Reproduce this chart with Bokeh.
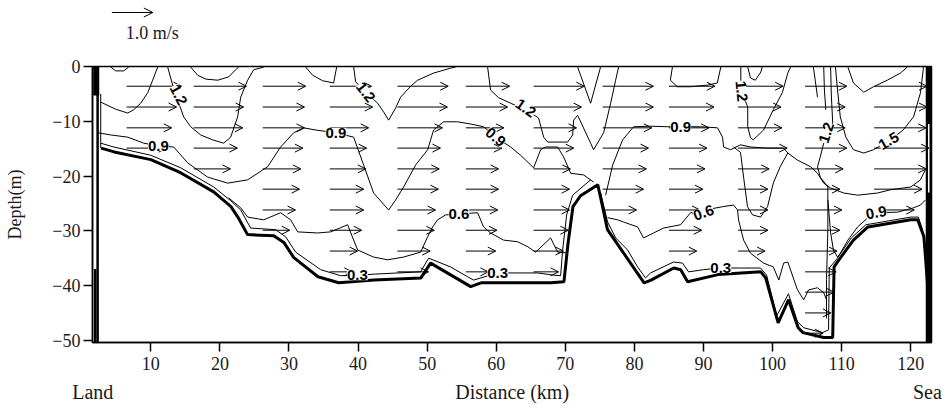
from bokeh.plotting import figure
from bokeh.models import (Range1d, FixedTicker, ColumnDataSource, Arrow, OpenHead,
                          LabelSet, LinearAxis)
from bokeh.layouts import column
from bokeh.core.properties import value
from bokeh.embed import file_html
from bokeh.resources import INLINE

# ---------------- data ----------------
x_ticks = [10, 20, 30, 40, 50, 60, 70, 80, 90, 100, 110, 120]
y_ticks = [0, -10, -20, -30, -40, -50]

# bottom line captions (position km, text)
caption_pos = [1.6, 62.3, 122.4]
caption_text = ["Land", "Distance (km)", "Sea"]

# bottom profile (distance km, depth m)
bath_x = [2.8, 4.7, 10.0, 14.3, 19.1, 21.6, 22.6, 24.0, 27.8, 29.3, 30.7, 34.2, 37.2, 42.3,
          49.1, 50.5, 56.3, 57.8, 67.9, 69.8, 70.4, 71.1, 72.2, 74.7, 76.1, 81.4, 82.4, 85.7,
          86.7, 87.7, 92.1, 98.3, 99.0, 100.8, 102.3, 103.7, 104.4, 107.4, 108.7, 108.9,
          109.6, 111.7, 113.8, 120.0, 121.0, 121.9, 122.6, 122.9]
bath_d = [-14.9, -15.6, -17.0, -19.4, -22.9, -25.6, -27.5, -30.7, -30.9, -32.2, -34.9, -38.4,
          -39.5, -39.0, -38.6, -35.9, -40.2, -39.5, -39.5, -39.3, -32.2, -25.6, -23.6, -21.6,
          -29.8, -39.5, -39.0, -36.8, -37.1, -39.3, -38.0, -37.5, -38.6, -46.8, -42.6, -47.7,
          -48.6, -49.5, -49.5, -36.6, -35.3, -31.7, -29.3, -28.0, -28.0, -31.1, -42.6, -49.9]

# side walls (x, top depth, bottom depth)
wall_thick_x = [2.1, 122.6]
wall_thick_top = [0.0, 0.0]
wall_thick_bot = [-5.3, -50.4]
wall_line_x = [2.3, 1.95]
wall_line_top = [0.0, -37.0]
wall_line_bot = [-50.4, -50.4]
wall_inner_x = [2.75]
wall_inner_top = [-5.0]
wall_inner_bot = [-14.9]
wall_gap_x = [122.6]
wall_gap_top = [-10.5]
wall_gap_bot = [-23.0]

# velocity vectors: tail positions (km), layer depths (m), speeds (m/s) per column
arrow_x = [6.5, 16.2, 26.2, 35.9, 45.7, 55.6, 65.4, 75.4, 85.0, 95.0, 104.7, 114.7]
row_depth = [-3.6, -7.4, -11.2, -14.9, -18.7, -22.4, -26.2, -29.9, -33.7, -37.5, -41.2, -45.0, -48.7]
speed_c1 = [1.34, 1.22, 1.10, 0.98]
speed_c2 = [1.29, 1.22, 1.20, 1.07, 0.90]
speed_c3 = [1.05, 1.02, 1.02, 0.98, 0.93, 0.90, 0.80, 0.66]
speed_c4 = [1.02, 1.05, 0.95, 0.90, 0.88, 0.83, 0.83, 0.78, 0.68, 0.55]
speed_c5 = [1.24, 1.22, 1.10, 1.05, 1.02, 1.00, 0.93, 0.90, 0.80, 0.76]
speed_c6 = [1.07, 1.02, 0.93, 0.88, 0.80, 0.80, 0.78, 0.76, 0.73, 0.55]
speed_c7 = [1.24, 1.17, 1.05, 0.98, 0.90, 0.88, 0.88, 0.85, 0.73, 0.61]
speed_c8 = [1.24, 1.24, 1.20, 1.12, 1.07, 1.00, 0.83]
speed_c9 = [1.12, 1.10, 0.98, 0.93, 0.88, 0.83, 0.76, 0.80, 0.68]
speed_c10 = [1.10, 1.05, 1.07, 1.20, 0.76, 0.73, 0.73, 0.73, 0.66]
speed_c11 = [1.02, 0.98, 0.98, 1.02, 0.93, 0.85, 0.90, 0.85, 0.78, 0.76, 0.71, 0.63, 0.44]
speed_c12 = [1.29, 1.29, 1.27, 1.34, 1.27, 1.17, 0.98]
speeds = [speed_c1, speed_c2, speed_c3, speed_c4, speed_c5, speed_c6,
          speed_c7, speed_c8, speed_c9, speed_c10, speed_c11, speed_c12]
km_per_ms = 5.93          # vector scale: 1 m/s drawn as 5.93 km
ref_speed = 1.0
ref_arrow_x = 4.36

# isotach contours (km, m)
c12a_x = [11.0, 10.27, 9.55, 8.54, 7.52, 6.66, 4.92, 2.75]
c12a_d = [-0.1, -2.5, -4.8, -6.7, -7.9, -8.5, -7.8, -6.5]
c12b_x = [12.44, 13.17, 14.04, 14.76, 15.77, 17.22, 18.96, 20.55, 21.56, 22.57, 23.01, 24.02, 24.89, 26.34]
c12b_d = [-0.1, -3.4, -6.7, -9.2, -11.0, -12.5, -13.4, -14.0, -12.9, -9.2, -5.6, -2.5, -0.6, -0.1]
w1_x = [4.20, 4.92, 6.08, 6.80]
w1_d = [-0.1, -0.8, -0.8, -0.1]
w2_x = [15.77, 16.79, 17.94, 19.68, 21.27, 22.28, 22.72]
w2_d = [-0.1, -1.6, -2.3, -2.5, -1.9, -0.6, -0.1]
w3_x = [32.41, 33.43, 34.87, 36.46, 36.90]
w3_d = [-0.1, -1.6, -2.6, -3.0, -0.1]
c12c_x = [39.36, 39.65, 41.09, 42.83, 43.70, 44.42, 45.43, 46.16, 47.61, 48.62, 50.93, 53.39, 54.12]
c12c_d = [-0.1, -2.8, -4.7, -6.7, -8.3, -9.8, -7.6, -5.6, -3.6, -2.5, -1.2, -0.3, -0.1]
c12d_x = [58.75, 59.18, 60.34, 62.08, 64.25, 66.13, 66.86, 67.44, 70.33, 71.06, 71.20, 71.78,
          73.66, 74.09, 75.54, 76.56, 77.28, 77.71]
c12d_d = [-0.1, -4.3, -5.7, -6.7, -7.9, -9.4, -12.9, -13.8, -13.8, -12.5, -9.8, -8.9,
          -14.0, -15.2, -12.1, -6.7, -2.5, -0.1]
v1_x = [71.78, 73.66, 75.10]
v1_d = [-0.1, -6.7, -0.1]
c09a_x = [2.32, 4.20, 6.66, 8.97, 11.14, 13.31, 15.34, 18.23, 21.13, 24.02, 26.91, 28.79, 30.68,
          32.12, 33.86, 36.75, 39.36, 40.81, 42.25, 44.42, 45.43, 46.59, 48.33, 50.07, 50.93,
          52.38, 54.41, 56.29, 58.17, 59.91, 62.08, 63.52, 65.41, 66.42, 67.15, 68.88, 69.75,
          70.77, 72.64, 74.09]
c09a_d = [-12.1, -12.5, -12.9, -14.0, -14.5, -14.7, -17.6, -20.2, -21.3, -20.7, -18.3, -14.7,
          -12.1, -11.2, -11.6, -12.1, -12.9, -18.0, -23.1, -26.2, -24.4, -22.0, -18.0, -15.2,
          -11.6, -10.1, -10.1, -10.5, -11.0, -12.9, -14.7, -16.2, -18.5, -15.2, -14.7, -14.7,
          -16.5, -19.5, -19.8, -21.1]
c09b_x = [75.83, 76.85, 78.29, 79.88, 82.34, 84.80, 89.57, 92.03, 92.76, 92.90, 93.92, 95.36,
          96.81, 99.27, 101.6, 102.2, 103.6, 105.5, 106.5, 107.4, 108.4, 110.3, 112.3, 115.2,
          117.1, 120.0, 121.4, 122.1]
c09b_d = [-23.5, -18.0, -13.4, -11.0, -10.9, -11.0, -11.0, -11.2, -12.9, -14.7, -15.2, -14.3,
          -14.7, -14.9, -14.9, -15.8, -17.1, -18.3, -19.5, -21.3, -22.2, -23.1, -23.5, -23.1,
          -22.5, -22.0, -20.7, -18.9]
u1_x = [94.35, 95.36, 95.80, 96.37, 97.1, 98.26, 99.27, 100.1, 101.1, 102.2]
u1_d = [-14.7, -15.7, -20.2, -25.6, -27.1, -27.5, -25.6, -21.3, -18.3, -15.8]
c06a_x = [21.27, 23.01, 24.02, 26.34, 28.79, 30.24, 31.26, 34.15, 36.03, 38.49, 39.36, 39.94,
          42.25, 44.28, 46.59, 49.05, 50.07, 50.79, 51.51, 52.67, 57.30, 58.17, 59.18, 61.06,
          63.09, 64.54, 65.70, 67.87, 68.88, 69.61, 70.33]
c06a_d = [-24.0, -25.8, -27.5, -28.0, -26.7, -28.0, -30.2, -30.4, -30.2, -28.9, -31.7, -33.5,
          -34.8, -35.3, -34.8, -33.9, -31.1, -29.3, -28.0, -27.1, -26.7, -29.3, -30.4, -31.7,
          -32.0, -32.9, -33.9, -31.3, -33.9, -34.0, -34.0]
c06b_x = [76.12, 77.57, 78.43, 80.46, 81.32, 82.77, 84.22, 86.68, 88.13, 92.76, 94.35, 94.93,
          95.07, 95.80, 96.81, 98.69, 100.1, 100.9, 101.6, 102.2, 103.6, 104.5, 105.2, 106.5,
          107.4, 107.8]
c06b_d = [-27.6, -28.0, -28.4, -29.3, -31.3, -30.4, -29.5, -28.9, -26.7, -25.6, -25.3, -26.2,
          -28.0, -31.7, -34.1, -35.9, -36.6, -39.0, -35.9, -35.7, -40.8, -42.6, -40.8, -40.4,
          -41.3, -42.6]
c03a_x = [2.75, 4.63, 9.98, 14.33, 19.10, 21.56, 23.01, 24.45, 28.07, 29.52, 30.97, 34.58,
          37.48, 39.94, 42.54, 49.05, 50.21, 53.39, 55.86, 56.72, 60.19, 65.99, 68.30, 69.32,
          69.61, 70.19, 71.06, 73.66]
c03a_d = [-14.0, -14.7, -16.2, -18.5, -22.0, -24.5, -26.2, -29.5, -29.8, -31.1, -33.9, -37.1,
          -38.2, -38.1, -37.9, -37.5, -35.0, -36.6, -38.4, -39.0, -37.7, -37.7, -38.1, -38.2,
          -33.5, -27.1, -23.5, -20.7]
c03b_x = [75.10, 76.12, 77.28, 79.01, 80.46, 81.61, 82.34, 85.66, 86.97, 87.84, 90.01, 92.47,
          95.36, 98.26, 99.13, 100.6, 102.3, 103.6, 104.5, 107.2, 108.1, 108.2, 109.2, 111.4,
          113.5, 120.0, 121.1, 121.7, 122.3, 122.4]
c03b_d = [-23.0, -28.4, -31.3, -33.5, -36.6, -38.6, -37.7, -35.7, -35.9, -37.5, -37.1, -36.8,
          -36.8, -36.8, -38.1, -45.5, -41.5, -46.6, -47.7, -48.6, -48.1, -36.8, -35.3, -31.3,
          -28.9, -27.5, -27.5, -29.8, -37.1, -42.6]
c09c_x = [108.0, 108.4, 108.8, 109.4, 109.8, 110.9, 112.3, 113.8, 115.0, 118.1, 120.4, 121.4, 122.1]
c09c_d = [-24.4, -30.4, -33.5, -34.8, -34.1, -31.7, -29.3, -27.6, -26.7, -26.6, -25.8, -25.3, -24.4]
c12e_x = [108.4, 108.5, 108.7, 107.8, 107.4, 106.9, 106.5, 106.9, 108.0, 108.0, 107.8, 107.8]
c12e_d = [-0.1, -5.2, -10.3, -12.1, -14.0, -16.5, -18.3, -20.2, -22.0, -29.8, -38.9, -46.0]
vl1_x = [105.9, 106.2, 106.5]
vl1_d = [-0.1, -2.8, -5.6]
vl2_x = [107.4, 107.5, 107.7]
vl2_d = [-0.1, -4.3, -7.9]
c15_x = [109.1, 109.4, 109.8, 110.6, 111.7, 113.2, 114.6, 116.8, 118.9, 120.4, 121.4, 121.8, 121.8]
c15_d = [-0.1, -4.3, -9.2, -12.9, -15.2, -15.8, -15.2, -13.6, -11.6, -9.2, -4.8, -0.6, -0.1]
tb1_x = [110.9, 111.7, 113.2, 114.6, 116.6, 118.5, 119.5]
tb1_d = [-0.1, -3.0, -4.7, -3.7, -2.5, -1.2, -0.1]
tb2_x = [85.5, 85.2, 86.2, 88.1, 90.6, 92.0, 92.5]
tb2_d = [-0.1, -2.5, -3.7, -3.7, -3.4, -3.0, -0.1]
tb3_x = [96.4, 96.8, 97.5, 98.3, 98.5]
tb3_d = [-0.1, -2.1, -2.5, -1.0, -0.1]
c12f_x = [95.4, 95.4, 95.5, 96.4, 96.4, 96.8, 97.2, 98.7, 100.1, 101.4, 102.2, 102.6]
c12f_d = [-0.1, -2.5, -4.5, -7.4, -11.0, -13.0, -13.4, -11.6, -7.9, -4.8, -1.2, -0.1]

contour_xs = [c12a_x, c12b_x, w1_x, w2_x, w3_x, c12c_x, c12d_x, v1_x, c09a_x, c09b_x, u1_x,
              c06a_x, c06b_x, c03a_x, c03b_x, c09c_x, c12e_x, vl1_x, vl2_x, c15_x, tb1_x,
              tb2_x, tb3_x, c12f_x]
contour_ds = [c12a_d, c12b_d, w1_d, w2_d, w3_d, c12c_d, c12d_d, v1_d, c09a_d, c09b_d, u1_d,
              c06a_d, c06b_d, c03a_d, c03b_d, c09c_d, c12e_d, vl1_d, vl2_d, c15_d, tb1_d,
              tb2_d, tb3_d, c12f_d]

# contour labels
clabel_text = ["1.2", "1.2", "1.2", "1.2", "1.2", "0.9", "0.9", "0.9", "0.9", "0.9",
               "1.5", "0.6", "0.6", "0.3", "0.3", "0.3"]
clabel_x = [14.0, 41.1, 64.25, 95.5, 107.8, 11.1, 36.8, 59.9, 86.7, 115.0,
            116.8, 54.6, 90.0, 39.9, 60.2, 92.5]
clabel_d = [-5.2, -4.7, -7.6, -4.5, -12.1, -14.5, -12.1, -12.9, -11.0, -26.7,
            -13.6, -26.9, -26.7, -38.1, -37.7, -36.8]
clabel_angle_deg = [-62, -52, -35, -85, 72, 0, 0, -40, 0, 10, 30, 0, 20, 0, 0, 0]

# ---------------- figures ----------------
SERIF = "Liberation Serif"
INK = "#1a1a1a"
frame_x = Range1d(1.56, 123.0)

p = figure(width=952, height=365, x_range=frame_x, y_range=Range1d(-50.4, 0.0),
           toolbar_location=None, output_backend="svg",
           min_border_left=92, min_border_right=21, min_border_top=16, min_border_bottom=73)
p.grid.visible = False
p.outline_line_color = "black"
p.outline_line_width = 1.5
p.background_fill_color = "white"
p.border_fill_color = "white"

p.xaxis.ticker = FixedTicker(ticks=x_ticks)
p.yaxis.ticker = FixedTicker(ticks=y_ticks)
for ax in (p.xaxis[0], p.yaxis[0]):
    ax.major_tick_out = 9
    ax.major_tick_in = 0
    ax.minor_tick_line_color = None
    ax.axis_line_width = 1.5
    ax.axis_line_color = "black"
    ax.major_tick_line_width = 1.5
    ax.major_tick_line_color = "black"
    ax.major_label_text_font = SERIF
    ax.major_label_text_font_size = "18px"
    ax.major_label_text_color = INK
p.xaxis.major_label_standoff = 5
p.yaxis.major_label_standoff = 3
p.yaxis.axis_label = "Depth(m)"
p.yaxis.axis_label_text_font = SERIF
p.yaxis.axis_label_text_font_style = "normal"
p.yaxis.axis_label_text_color = INK
p.yaxis.axis_label_text_font_size = "18px"
p.yaxis.axis_label_standoff = 24

# caption row under the distance ticks: Land ... Distance (km) ... Sea
cap_axis = LinearAxis(ticker=FixedTicker(ticks=caption_pos),
                      major_label_overrides=dict(zip(caption_pos, caption_text)),
                      axis_line_color=None, major_tick_line_color=None,
                      minor_tick_line_color=None, major_tick_out=0, major_tick_in=0,
                      major_label_standoff=8, major_label_text_font=SERIF,
                      major_label_text_font_size="20px", major_label_text_color=INK)
p.add_layout(cap_axis, "below")

# contours
p.multi_line(xs=contour_xs, ys=contour_ds, line_color="black", line_width=1)

# walls
p.segment(x0=wall_thick_x, y0=wall_thick_top, x1=wall_thick_x, y1=wall_thick_bot,
          line_color="black", line_width=6)
p.segment(x0=wall_line_x, y0=wall_line_top, x1=wall_line_x, y1=wall_line_bot,
          line_color="black", line_width=2.5)
p.segment(x0=wall_inner_x, y0=wall_inner_top, x1=wall_inner_x, y1=wall_inner_bot,
          line_color="black", line_width=1)
p.segment(x0=wall_gap_x, y0=wall_gap_top, x1=wall_gap_x, y1=wall_gap_bot,
          line_color="white", line_width=1.5)

# bottom
p.line(bath_x, bath_d, line_color="black", line_width=3)

# vectors
x0, x1, yy = [], [], []
for xt, col in zip(arrow_x, speeds):
    for d, s in zip(row_depth, col):
        x0.append(xt)
        x1.append(xt + s * km_per_ms)
        yy.append(d)
vsrc = ColumnDataSource(dict(x0=x0, x1=x1, y=yy))
p.add_layout(Arrow(end=OpenHead(size=8, line_width=1, line_color="black"),
                   x_start="x0", y_start="y", x_end="x1", y_end="y", source=vsrc,
                   line_width=1, line_color="black"))

# contour labels
lsrc = ColumnDataSource(dict(x=clabel_x, y=clabel_d, t=clabel_text,
                             a=[v * 3.14159265 / 180 for v in clabel_angle_deg]))
p.add_layout(LabelSet(x="x", y="y", text="t", angle="a", source=lsrc,
                      text_font=value("Liberation Sans"), text_font_style="bold",
                      text_font_size="15px", text_align="center", text_baseline="middle",
                      background_fill_color="white", text_color="black"))

# reference vector strip
top = figure(width=952, height=50, x_range=frame_x, y_range=Range1d(0, 1),
             toolbar_location=None, output_backend="svg",
             min_border_left=92, min_border_right=21, min_border_top=0, min_border_bottom=0)
top.axis.visible = False
top.grid.visible = False
top.outline_line_color = None
top.background_fill_color = "white"
top.border_fill_color = "white"
rsrc = ColumnDataSource(dict(x0=[ref_arrow_x], x1=[ref_arrow_x + ref_speed * km_per_ms], y=[0.76]))
top.add_layout(Arrow(end=OpenHead(size=9, line_width=1, line_color="black"),
                     x_start="x0", y_start="y", x_end="x1", y_end="y", source=rsrc,
                     line_width=1, line_color="black"))
top.text(x=[6.37], y=[0.36], text=["1.0 m/s"], text_font=value(SERIF), text_font_size="18px",
         text_align="left", text_baseline="middle", text_color=INK)

layout = column(top, p, spacing=0)
open("out.html", "w").write(file_html(layout, INLINE))
